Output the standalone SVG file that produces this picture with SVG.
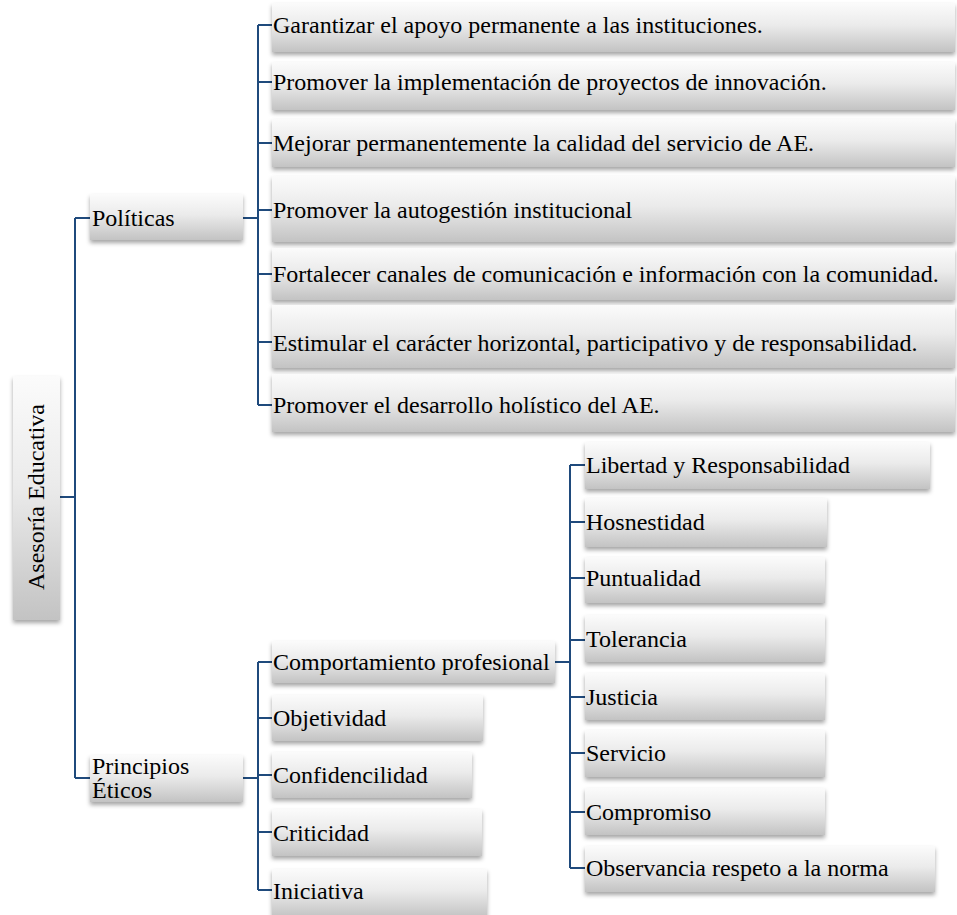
<svg xmlns="http://www.w3.org/2000/svg" width="957" height="915" viewBox="0 0 957 915">
<defs>
<linearGradient id="g" x1="0" y1="0" x2="0" y2="1">
<stop offset="0" stop-color="#fbfbfb"/>
<stop offset="0.45" stop-color="#ebebeb"/>
<stop offset="1" stop-color="#c3c3c3"/>
</linearGradient>
<filter id="sh" x="-10%" y="-20%" width="120%" height="150%">
<feDropShadow dx="0" dy="3" stdDeviation="2" flood-color="#000" flood-opacity="0.35"/>
</filter>
</defs>
<style>
.b{fill:url(#g);filter:url(#sh)}
.t{font-family:'Liberation Serif','Times New Roman',serif;font-size:24px;fill:#000}
.c{fill:none;stroke:#1f4a7c;stroke-width:2}
</style>
<g id="connectors">
<path class="c" d="M60 497H75M75 218V778M75 218H90M75 778H90"/>
<path class="c" d="M243 218H258M258 25V405M258 25H272M258 82H272M258 143H272M258 210H272M258 274H272M258 342H272M258 405H272"/>
<path class="c" d="M243 778H258M258 662V890M258 662H272M258 718H272M258 775H272M258 832H272M258 890H272"/>
<path class="c" d="M555 662H570M570 465V868M570 465H585M570 522H585M570 578H585M570 640H585M570 697H585M570 753H585M570 812H585M570 868H585"/>
</g>
<g id="root"><rect class="b" x="13" y="376" width="47" height="244"/><text class="t" transform="translate(44 497) rotate(-90)" text-anchor="middle">Asesoría Educativa</text></g>
<g id="politicas"><rect class="b" x="90" y="194" width="153" height="46"/><text class="t" x="92" y="226">Políticas</text></g>
<g id="principios"><rect class="b" x="90" y="755" width="153" height="47"/><text class="t" x="92" y="774">Principios</text><text class="t" x="92" y="798">Éticos</text></g>
<g id="p1"><rect class="b" x="272" y="3" width="683" height="49"/><text class="t" x="273" y="33">Garantizar el apoyo permanente a las instituciones.</text></g>
<g id="p2"><rect class="b" x="272" y="62" width="683" height="48"/><text class="t" x="273" y="90">Promover la implementación de proyectos de innovación.</text></g>
<g id="p3"><rect class="b" x="272" y="119" width="683" height="48"/><text class="t" x="273" y="151">Mejorar permanentemente la calidad del servicio de AE.</text></g>
<g id="p4"><rect class="b" x="272" y="176" width="683" height="66"/><text class="t" x="273" y="218">Promover la autogestión institucional</text></g>
<g id="p5"><rect class="b" x="272" y="248" width="683" height="52"/><text class="t" x="273" y="282">Fortalecer canales de comunicación e información con la comunidad.</text></g>
<g id="p6"><rect class="b" x="272" y="305" width="683" height="63"/><text class="t" x="273" y="351">Estimular el carácter horizontal, participativo y de responsabilidad.</text></g>
<g id="p7"><rect class="b" x="272" y="374" width="683" height="58"/><text class="t" x="273" y="413">Promover el desarrollo holístico del AE.</text></g>
<g id="e1"><rect class="b" x="272" y="641" width="283" height="42"/><text class="t" x="273" y="670">Comportamiento profesional</text></g>
<g id="e2"><rect class="b" x="272" y="695" width="211" height="46"/><text class="t" x="273" y="726">Objetividad</text></g>
<g id="e3"><rect class="b" x="272" y="752" width="200" height="46"/><text class="t" x="273" y="783">Confidencilidad</text></g>
<g id="e4"><rect class="b" x="272" y="809" width="210" height="47"/><text class="t" x="273" y="841">Criticidad</text></g>
<g id="e5"><rect class="b" x="272" y="869" width="215" height="48"/><text class="t" x="273" y="899">Iniciativa</text></g>
<g id="c1"><rect class="b" x="585" y="442" width="345" height="47"/><text class="t" x="586" y="473">Libertad y Responsabilidad</text></g>
<g id="c2"><rect class="b" x="585" y="498" width="242" height="49"/><text class="t" x="586" y="530">Hosnestidad</text></g>
<g id="c3"><rect class="b" x="585" y="557" width="240" height="46"/><text class="t" x="586" y="586">Puntualidad</text></g>
<g id="c4"><rect class="b" x="585" y="615" width="240" height="47"/><text class="t" x="586" y="647">Tolerancia</text></g>
<g id="c5"><rect class="b" x="585" y="673" width="240" height="47"/><text class="t" x="586" y="705">Justicia</text></g>
<g id="c6"><rect class="b" x="585" y="730" width="240" height="47"/><text class="t" x="586" y="761">Servicio</text></g>
<g id="c7"><rect class="b" x="585" y="788" width="240" height="47"/><text class="t" x="586" y="820">Compromiso</text></g>
<g id="c8"><rect class="b" x="585" y="846" width="350" height="46"/><text class="t" x="586" y="876">Observancia respeto a la norma</text></g>
</svg>
